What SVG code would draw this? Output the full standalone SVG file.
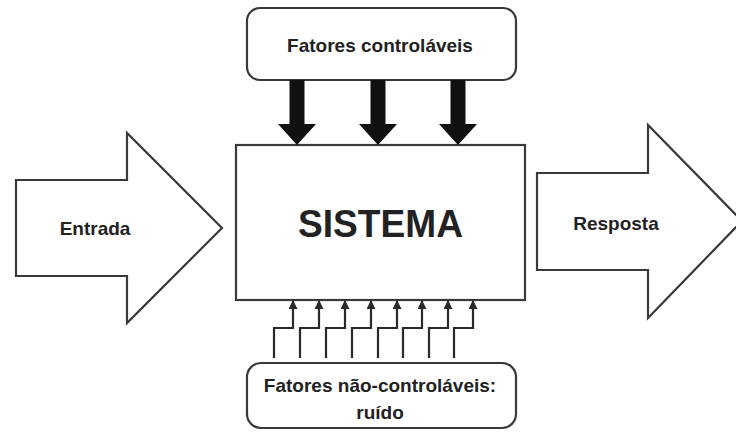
<svg xmlns="http://www.w3.org/2000/svg" width="736" height="432" viewBox="0 0 736 432">
<style>
.ln{fill:#fff;stroke:#3a3a3a;stroke-width:2.2}
.t{font-family:"Liberation Sans",Arial,sans-serif;font-weight:bold;fill:#222;text-anchor:middle}
.big{fill:#111;stroke:none}
.noise{fill:none;stroke:#2a2a2a;stroke-width:2.2}
</style>
<defs>
<marker id="ah" markerWidth="9" markerHeight="9" refX="8" refY="4.5" orient="auto" markerUnits="userSpaceOnUse">
<path d="M0,0 L9,4.5 L0,9 Z" fill="#2a2a2a"/>
</marker>
</defs>
<rect width="736" height="432" fill="#fff"/>
<g id="entrada">
<polygon class="ln" points="16,180 127,180 127,133 222,228 127,323 127,276 16,276"/>
<text class="t" x="95" y="235" font-size="19">Entrada</text>
</g>
<g id="resposta">
<polygon class="ln" points="537,173 648,173 648,125 742,221 648,318 648,270 537,270"/>
<text class="t" x="616" y="230" font-size="19">Resposta</text>
</g>
<g id="sistema">
<rect class="ln" x="236" y="145" width="289" height="155"/>
<text class="t" x="380.5" y="237" font-size="38" fill="#111" textLength="165" lengthAdjust="spacingAndGlyphs">SISTEMA</text>
</g>
<g id="controlaveis">
<rect class="ln" x="247" y="8" width="269" height="72" rx="13"/>
<text class="t" x="380" y="52" font-size="19">Fatores controláveis</text>
</g>
<g id="nao-controlaveis">
<rect class="ln" x="247" y="363" width="269" height="65" rx="14"/>
<text class="t" x="380" y="392" font-size="19">Fatores não-controláveis:</text>
<text class="t" x="380" y="419" font-size="19">ruído</text>
</g>
<g id="connectors">
<polygon class="big" points="289.5,80 304.5,80 304.5,124 316,124 297,145 278,124 289.5,124"/>
<polygon class="big" points="370.5,80 385.5,80 385.5,124 397,124 378,145 359,124 370.5,124"/>
<polygon class="big" points="450.5,80 465.5,80 465.5,124 477,124 458,145 439,124 450.5,124"/>
<path class="noise" marker-end="url(#ah)" d="M274,358 V328 H293 V301"/>
<path class="noise" marker-end="url(#ah)" d="M300,358 V328 H319 V301"/>
<path class="noise" marker-end="url(#ah)" d="M326,358 V328 H345 V301"/>
<path class="noise" marker-end="url(#ah)" d="M352,358 V328 H371 V301"/>
<path class="noise" marker-end="url(#ah)" d="M378,358 V328 H397 V301"/>
<path class="noise" marker-end="url(#ah)" d="M403,358 V328 H422 V301"/>
<path class="noise" marker-end="url(#ah)" d="M429,358 V328 H448 V301"/>
<path class="noise" marker-end="url(#ah)" d="M454,358 V328 H473 V301"/>
</g>
</svg>
